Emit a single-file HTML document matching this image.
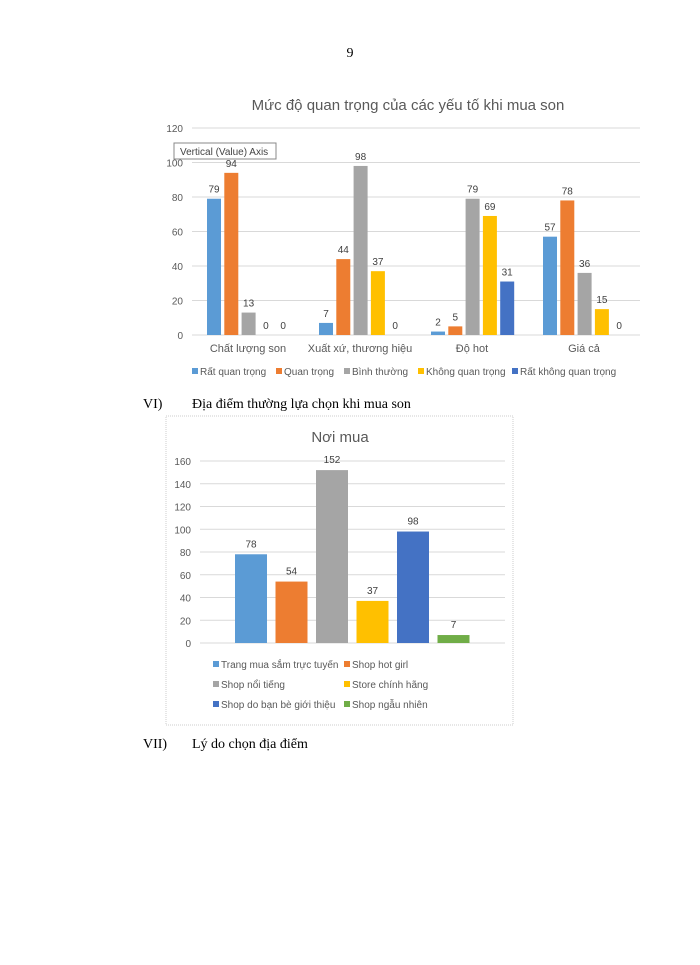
<!DOCTYPE html>
<html><head><meta charset="utf-8"><style>
body{margin:0;background:#fff;}
svg text{font-family:"Liberation Sans",sans-serif;}
.serif{font-family:"Liberation Serif",serif!important;}
</style></head><body>
<svg width="700" height="960" xmlns="http://www.w3.org/2000/svg">
<text class="serif" x="350" y="57" font-size="14" text-anchor="middle">9</text>
<g id="c1">
<text x="408" y="110" font-size="15" fill="#595959" text-anchor="middle">Mức độ quan trọng của các yếu tố khi mua son</text>
</g>
<rect x="174" y="143" width="102" height="16" fill="#fff" stroke="#888"/>
<text x="180" y="155" font-size="10" fill="#444">Vertical (Value) Axis</text>
<text class="serif" x="143" y="408" font-size="14">VI)</text>
<text class="serif" x="192" y="408" font-size="14">Địa điểm thường lựa chọn khi mua son</text>
<rect x="166" y="416" width="347" height="309" fill="#fff" stroke="#ccc" stroke-dasharray="1,1"/>
<g id="c2">
<text x="340" y="442" font-size="15" fill="#595959" text-anchor="middle">Nơi mua</text>
</g>
<text class="serif" x="143" y="748" font-size="14">VII)</text>
<text class="serif" x="192" y="748" font-size="14">Lý do chọn địa điểm</text>
</svg>
<script>
const NS="http://www.w3.org/2000/svg";
function mk(p,t,a,txt){const e=document.createElementNS(NS,t);for(const k in a)e.setAttribute(k,a[k]);if(txt!==undefined)e.textContent=txt;p.appendChild(e);return e;}
const colors=["#5b9bd5","#ed7d31","#a5a5a5","#ffc000","#4472c4","#70ad47"];

const cats1=["Chất lượng son","Xuất xứ, thương hiệu","Độ hot","Giá cả"];
const series1Names=["Rất quan trọng","Quan trọng","Bình thường","Không quan trọng","Rất không quan trọng"];
const s1=[79,7,2,57];
const s2=[94,44,5,78];
const s3=[13,98,79,36];
const s4=[0,37,69,15];
const s5=[0,0,31,0];
const ticks1=[0,20,40,60,80,100,120];

const cats2=["Nơi mua"];
const names2=["Trang mua sắm trực tuyến","Shop hot girl","Shop nổi tiếng","Store chính hãng","Shop do bạn bè giới thiệu","Shop ngẫu nhiên"];
const vals2=[78,54,152,37,98,7];
const ticks2=[0,20,40,60,80,100,120,140,160];

// chart 1
(function(){
const g=document.getElementById('c1');
const y=v=>335-v*(207/120);
const x0=192,x1=640,gw=(x1-x0)/cats1.length;
ticks1.forEach(t=>{
 const l=mk(g,'line',{x1:x0,x2:x1,y1:y(t),y2:y(t),stroke:'#d9d9d9'});
 
 const tx=mk(g,'text',{x:183,y:y(t)+4,'font-size':10,fill:'#595959','text-anchor':'end'},t);
 
});
const ser=[s1,s2,s3,s4,s5];
cats1.forEach((c,i)=>{
 const cx=x0+gw*(i+0.5);
 ser.forEach((s,j)=>{
  const bx=cx-41+j*17.3;
  const r=mk(g,'rect',{x:bx,y:y(s[i]),width:14,height:335-y(s[i]),fill:colors[j]});
  
  const t=mk(g,'text',{x:bx+7,y:y(s[i])-6,'font-size':10,fill:'#404040','text-anchor':'middle'},s[i]);
  
 });
 const t=mk(g,'text',{x:cx,y:352,'font-size':11,fill:'#595959','text-anchor':'middle'},c);
 
});
const lx=[192,276,344,418,512];
series1Names.forEach((n,j)=>{
 const r=mk(g,'rect',{x:lx[j],y:368,width:6,height:6,fill:colors[j]});
 
 const t=mk(g,'text',{x:lx[j]+8,y:375,'font-size':10,fill:'#595959',textLength:0},n);
 t.removeAttribute('textLength');
 
});
})();

// chart 2
(function(){
const g=document.getElementById('c2');
const y=v=>643-v*(182/160);
const x0=200,x1=505;
ticks2.forEach(t=>{
 const l=mk(g,'line',{x1:x0,x2:x1,y1:y(t),y2:y(t),stroke:'#d9d9d9'});
 
 const tx=mk(g,'text',{x:191,y:y(t)+4,'font-size':10,fill:'#595959','text-anchor':'end'},t);
 
});
vals2.forEach((v,j)=>{
 const bx=235+j*40.5;
 const r=mk(g,'rect',{x:bx,y:y(v),width:32,height:643-y(v),fill:colors[j]});
 
 const t=mk(g,'text',{x:bx+16,y:y(v)-7,'font-size':10,fill:'#404040','text-anchor':'middle'},v);
 
});
names2.forEach((n,j)=>{
 const lx=j%2?344:213, ly=667+Math.floor(j/2)*20;
 const r=mk(g,'rect',{x:lx,y:ly-6,width:6,height:6,fill:colors[j]});
 
 const t=mk(g,'text',{x:lx+8,y:ly+1,'font-size':10,fill:'#595959'},n);
 
});
})();
</script>
</body></html>
